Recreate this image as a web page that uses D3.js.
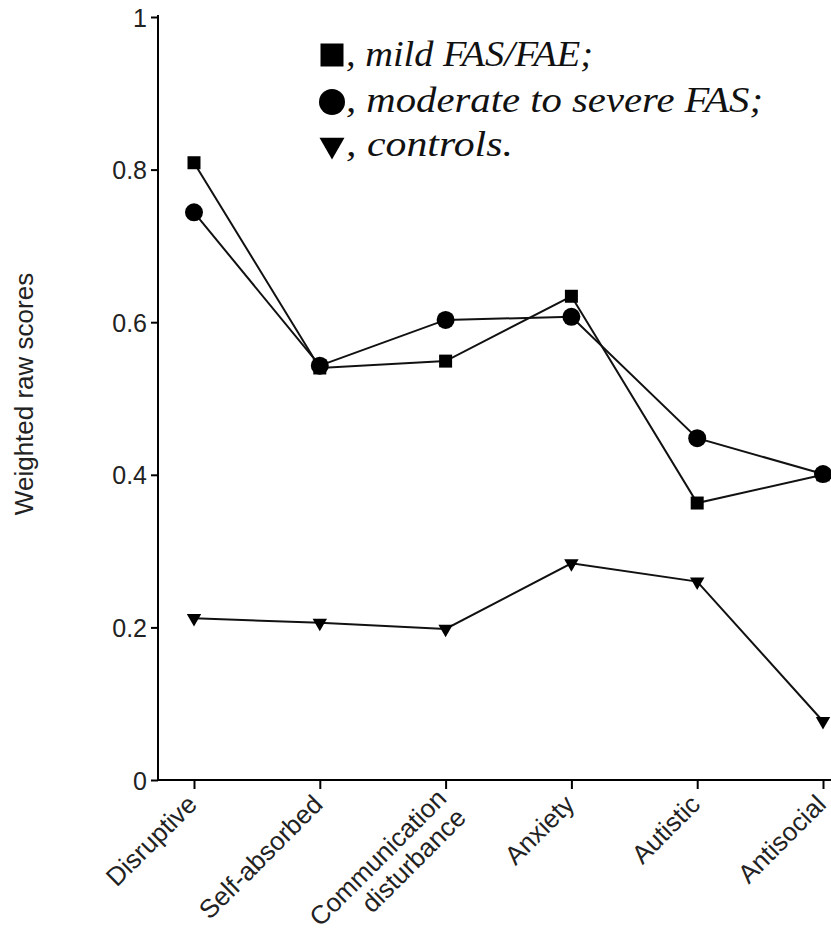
<!DOCTYPE html>
<html>
<head>
<meta charset="utf-8">
<script src="https://cdn.jsdelivr.net/npm/d3@7"></script>
<style>
  html, body { margin: 0; padding: 0; background: #fff; }
  svg { display: block; }
</style>
</head>
<body>
<svg id="chart" width="831" height="931"></svg>
<script>
// ---- data ----
const categories = ["Disruptive", "Self-absorbed", "Communication\ndisturbance", "Anxiety", "Autistic", "Antisocial"];
const mildFAS     = [0.809, 0.540, 0.549, 0.634, 0.363, 0.400];
const moderateFAS = [0.744, 0.543, 0.603, 0.607, 0.448, 0.401];
const controls    = [0.212, 0.206, 0.198, 0.284, 0.260, 0.077];
const yTicks = [0, 0.2, 0.4, 0.6, 0.8, 1];
const yTickLabels = ["0", "0.2", "0.4", "0.6", "0.8", "1"];
const legendLabels = ["mild FAS/FAE;", "moderate to severe FAS;", "controls."];
const yTitle = "Weighted raw scores";

// ---- layout ----
const svg = d3.select("#chart");
const axisX = 158, axisY = 780, topY = 17;

const x = d3.scalePoint().domain(categories).range([194, 823]);
const y = d3.scaleLinear().domain([0, 1]).range([axisY, topY]);

const sansFont = "'Liberation Sans', Arial, Helvetica, sans-serif";

// y axis
const yAxis = svg.append("g")
  .attr("transform", `translate(${axisX},0)`)
  .call(d3.axisLeft(y).tickValues(yTicks).tickSize(7).tickSizeOuter(0)
        .tickFormat((d, i) => yTickLabels[i]));
yAxis.select(".domain").remove();
yAxis.selectAll(".tick line").attr("stroke", "#000").attr("stroke-width", 2);
yAxis.selectAll(".tick text")
  .attr("x", -11).attr("dy", "0.36em")
  .style("font-family", sansFont).style("font-size", "25px").attr("fill", "#222");
svg.append("line").attr("x1", axisX).attr("x2", axisX)
  .attr("y1", y(1) - 2).attr("y2", axisY + 1)
  .attr("stroke", "#000").attr("stroke-width", 2);

// x axis
const xAxis = svg.append("g")
  .attr("transform", `translate(0,${axisY})`)
  .call(d3.axisBottom(x).tickSize(9).tickSizeOuter(0));
xAxis.select(".domain").remove();
xAxis.selectAll(".tick line").attr("stroke", "#000").attr("stroke-width", 2);
xAxis.selectAll(".tick text").each(function(d) {
  const t = d3.select(this);
  const lines = d.split("\n");
  t.text(null)
   .attr("x", 0).attr("y", 0).attr("dy", null)
   .attr("text-anchor", "end")
   .attr("transform", lines.length > 1 ? "translate(2,20) rotate(-45)" : "translate(4,26) rotate(-45)")
   .style("font-family", sansFont).style("font-size", "26px").attr("fill", "#222");
  lines.forEach((ln, i) => {
    t.append("tspan").attr("x", 0).attr("dy", i === 0 ? 0 : "1.05em").text(ln);
  });
});
svg.append("line").attr("x1", axisX - 1).attr("x2", 831)
  .attr("y1", axisY).attr("y2", axisY)
  .attr("stroke", "#000").attr("stroke-width", 2);

// y title
svg.append("text")
  .attr("transform", `translate(33,394) rotate(-90)`)
  .attr("text-anchor", "middle")
  .style("font-family", sansFont).style("font-size", "26px").attr("fill", "#222")
  .text(yTitle);

// ---- series ----
const series = [
  { values: mildFAS,     symbol: d3.symbolSquare,   size: 169, rot: 0 },
  { values: moderateFAS, symbol: d3.symbolCircle,   size: 254, rot: 0 },
  { values: controls,    symbol: d3.symbolTriangle, size: 90,  rot: 180 }
];
const line = d3.line().x((d, i) => x(categories[i])).y(d => y(d));

series.forEach(s => {
  svg.append("path").datum(s.values)
    .attr("d", line).attr("fill", "none")
    .attr("stroke", "#111").attr("stroke-width", 2);
  svg.selectAll(null).data(s.values).enter().append("path")
    .attr("d", d3.symbol().type(s.symbol).size(s.size))
    .attr("transform", (d, i) => `translate(${x(categories[i])},${y(d)}) rotate(${s.rot})`)
    .attr("fill", "#000");
});

// ---- legend ----
const legend = [
  { symbol: d3.symbolSquare,   size: 529, rot: 0,   cy: 55,  base: 66,  len: 247 },
  { symbol: d3.symbolCircle,   size: 531, rot: 0,   cy: 102, base: 112, len: 417 },
  { symbol: d3.symbolTriangle, size: 270, rot: 180, cy: 145, base: 156, len: 167 }
];
legend.forEach((l, i) => {
  svg.append("path")
    .attr("d", d3.symbol().type(l.symbol).size(l.size))
    .attr("transform", `translate(332,${l.cy}) rotate(${l.rot})`)
    .attr("fill", "#000");
  svg.append("text")
    .attr("x", 346).attr("y", l.base)
    .attr("textLength", l.len).attr("lengthAdjust", "spacingAndGlyphs")
    .style("font-family", "'Liberation Serif', 'Times New Roman', serif")
    .style("font-style", "italic").style("font-size", "36px").attr("fill", "#111")
    .text(", " + legendLabels[i]);
});
</script>
</body>
</html>
